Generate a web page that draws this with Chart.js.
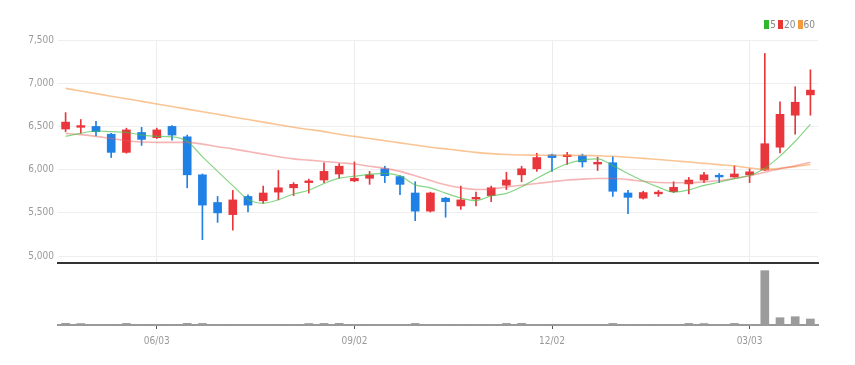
<!DOCTYPE html>
<html lang="ko">
<head>
<meta charset="UTF-8">
<title>주가 차트</title>
<script src="https://cdn.jsdelivr.net/npm/chart.js"></script>
<style>
  html, body { margin: 0; padding: 0; background: #fff; }
  body { width: 855px; height: 365px; position: relative; overflow: hidden; }
  .price-wrap { position: absolute; left: 0; top: 0; width: 855px; height: 273px; z-index: 1; }
  .volume-wrap { position: absolute; left: 0; top: 264px; width: 855px; height: 101px; z-index: 2; }
  .ma-legend {
    position: absolute; top: 19px; right: 40px; z-index: 3;
    font: 10px 'Liberation Sans Narrow', 'DejaVu Sans Condensed', sans-serif;
    color: #888; line-height: 12px; white-space: nowrap;
  }
  .ma-legend span { margin-left: 2px; }
  .ma-legend i { display: inline-block; width: 5px; height: 9px; margin-right: 1px; vertical-align: -1px; }
</style>
</head>
<body>
<div class="price-wrap"><canvas id="priceChart"></canvas></div>
<div class="volume-wrap"><canvas id="volumeChart"></canvas></div>
<div class="ma-legend" id="maLegend"></div>

<script>
// weekly candles
const dates = ["04/22","04/29","05/06","05/13","05/20","05/27","06/03","06/10","06/17","06/24",
  "07/01","07/08","07/15","07/22","07/29","08/05","08/12","08/19","08/26","09/02",
  "09/09","09/16","09/23","09/30","10/07","10/14","10/21","10/28","11/04","11/11",
  "11/18","11/25","12/02","12/09","12/16","12/23","12/30","01/06","01/13","01/20",
  "01/27","02/03","02/10","02/17","02/24","03/03","03/10","03/17","03/24","03/31"];

const opens = [6470,6490,6500,6410,6200,6430,6370,6500,6380,5940,
  5620,5480,5690,5640,5740,5790,5850,5880,5950,5870,
  5900,6010,5920,5730,5520,5670,5580,5660,5700,5820,
  5940,6010,6170,6150,6160,6065,6080,5730,5670,5720,
  5745,5835,5880,5935,5915,5940,5995,6260,6630,6865];
const highs = [6660,6580,6560,6420,6480,6490,6480,6510,6400,5950,
  5690,5760,5710,5810,5990,5850,5890,6080,6070,6090,
  5980,6040,5930,5860,5740,5680,5810,5740,5810,5970,
  6040,6190,6180,6200,6180,6145,6150,5760,5750,5760,
  5860,5910,5970,5955,6045,6010,7345,6785,6960,7155];
const lows = [6440,6420,6390,6140,6190,6280,6360,6340,5790,5190,
  5390,5300,5510,5610,5650,5700,5730,5850,5900,5860,
  5830,5850,5710,5410,5510,5450,5540,5580,5630,5770,
  5860,5980,5980,6060,6030,5990,5690,5490,5660,5690,
  5735,5720,5850,5850,5910,5850,5990,6195,6410,6630];
const closes = [6550,6510,6440,6200,6460,6350,6460,6400,5940,5590,
  5500,5650,5590,5730,5790,5830,5870,5980,6040,5900,
  5940,5930,5830,5520,5730,5630,5650,5680,5790,5880,
  6010,6140,6140,6170,6090,6085,5750,5680,5735,5740,
  5795,5880,5940,5915,5950,5975,6300,6640,6780,6920];

// moving averages
const ma5 = [6385,6420,6447,6439,6432,6400,6385,6380,6330,6150,
  5980,5815,5655,5612,5652,5718,5762,5840,5902,5924,
  5946,5958,5928,5824,5790,5728,5672,5642,5696,5726,
  5802,5900,5992,6068,6110,6125,6047,5955,5868,5798,
  5740,5766,5818,5854,5896,5932,6016,6156,6329,6523];
const ma20 = [6420,6405,6385,6360,6335,6320,6315,6315,6315,6295,
  6265,6240,6210,6180,6150,6125,6110,6095,6080,6065,
  6040,6015,5980,5930,5875,5825,5790,5770,5775,5800,
  5820,5840,5860,5880,5890,5898,5898,5885,5865,5852,
  5848,5848,5858,5875,5898,5930,5970,6010,6045,6085];
const ma60 = [6940,6910,6880,6850,6820,6790,6760,6730,6700,6670,
  6640,6610,6580,6550,6520,6490,6465,6440,6410,6385,
  6360,6335,6310,6285,6260,6240,6220,6200,6185,6175,
  6170,6168,6166,6165,6165,6160,6155,6143,6130,6117,
  6103,6088,6073,6058,6042,6020,6005,6015,6035,6060];

const volumes = [150,130,40,35,140,45,40,30,150,140,
  40,35,45,40,30,40,130,140,150,40,
  35,40,45,140,40,30,40,35,45,140,
  150,40,35,40,45,30,140,40,35,40,
  45,140,130,40,140,45,4800,645,733,530];

const priceTicks = [5000, 5500, 6000, 6500, 7000, 7500];
const dateTicks = ["06/03", "09/02", "12/02", "03/03"];

const FONT = "'Liberation Sans Narrow', 'DejaVu Sans Condensed', sans-serif";
Chart.defaults.font.family = FONT;

const upColor = '#e8363c';
const downColor = '#1f80e6';
const candleColor = ctx => closes[ctx.dataIndex] >= opens[ctx.dataIndex] ? upColor : downColor;
const dateGrid = (on, off) => ctx => (ctx.tick && dateTicks.includes(dates[ctx.tick.value])) ? on : off;

const priceChart = new Chart(document.getElementById('priceChart'), {
  type: 'bar',
  data: {
    labels: dates,
    datasets: [
      { type: 'line', label: '5', data: ma5, borderColor: 'rgba(70,190,70,0.65)', backgroundColor: '#2db82d',
        borderWidth: 1.2, pointRadius: 0, tension: 0.3, cubicInterpolationMode: 'monotone', order: 0 },
      { type: 'line', label: '20', data: ma20, borderColor: 'rgba(236,90,90,0.45)', backgroundColor: '#e53935',
        borderWidth: 1.6, pointRadius: 0, tension: 0.3, cubicInterpolationMode: 'monotone', order: 0 },
      { type: 'line', label: '60', data: ma60, borderColor: 'rgba(245,150,60,0.55)', backgroundColor: '#f39a3c',
        borderWidth: 1.6, pointRadius: 0, tension: 0.3, cubicInterpolationMode: 'monotone', order: 0 },
      { label: 'body', data: opens.map((o, i) => [o, closes[i]]), backgroundColor: candleColor,
        barThickness: 8, grouped: false, order: 1 },
      { label: 'wick', data: lows.map((l, i) => [l, highs[i]]), backgroundColor: candleColor,
        barThickness: 1, grouped: false, order: 2 }
    ]
  },
  options: {
    responsive: true,
    maintainAspectRatio: false,
    animation: false,
    layout: { padding: { left: 0, right: 37, top: 40, bottom: 0 } },
    plugins: {
      legend: { display: false },
      tooltip: { enabled: false }
    },
    scales: {
      x: {
        offset: true,
        afterFit: scale => { scale.height = 0; },
        grid: { offset: false, drawTicks: false, color: dateGrid('#ececec', 'rgba(0,0,0,0)') },
        border: { display: true, color: '#333', width: 2 },
        ticks: { display: false, autoSkip: false }
      },
      y: {
        min: 4920,
        max: 7500,
        afterBuildTicks: scale => { scale.ticks = priceTicks.map(v => ({ value: v })); },
        afterFit: scale => { scale.width = 58; },
        grid: { color: '#eeeeee', drawTicks: false },
        border: { display: false },
        ticks: { padding: 4, color: '#999', font: { size: 10 },
          callback: v => v.toLocaleString('en-US') }
      }
    }
  }
});

// legend for the moving averages only
document.getElementById('maLegend').innerHTML = priceChart.data.datasets.slice(0, 3)
  .map(ds => `<span><i style="background:${ds.backgroundColor}"></i>${ds.label}</span>`).join('');

new Chart(document.getElementById('volumeChart'), {
  type: 'bar',
  data: {
    labels: dates,
    datasets: [{ label: 'volume', data: volumes, backgroundColor: '#9b9b9b', barThickness: 8 }]
  },
  options: {
    responsive: true,
    maintainAspectRatio: false,
    animation: false,
    layout: { padding: { left: 58, right: 37, top: 1, bottom: 12 } },
    plugins: { legend: { display: false }, tooltip: { enabled: false } },
    scales: {
      x: {
        offset: true,
        grid: { offset: false, drawOnChartArea: false, drawTicks: true, tickLength: 4,
          color: dateGrid('#555', 'rgba(0,0,0,0)') },
        border: { display: true, color: '#999', width: 2 },
        ticks: { autoSkip: false, maxRotation: 0, padding: 6, color: '#999', font: { size: 10 },
          callback: (v, i) => dateTicks.includes(dates[i]) ? dates[i] : '' }
      },
      y: { display: false, min: 0, max: 5300 }
    }
  }
});
</script>
</body>
</html>
